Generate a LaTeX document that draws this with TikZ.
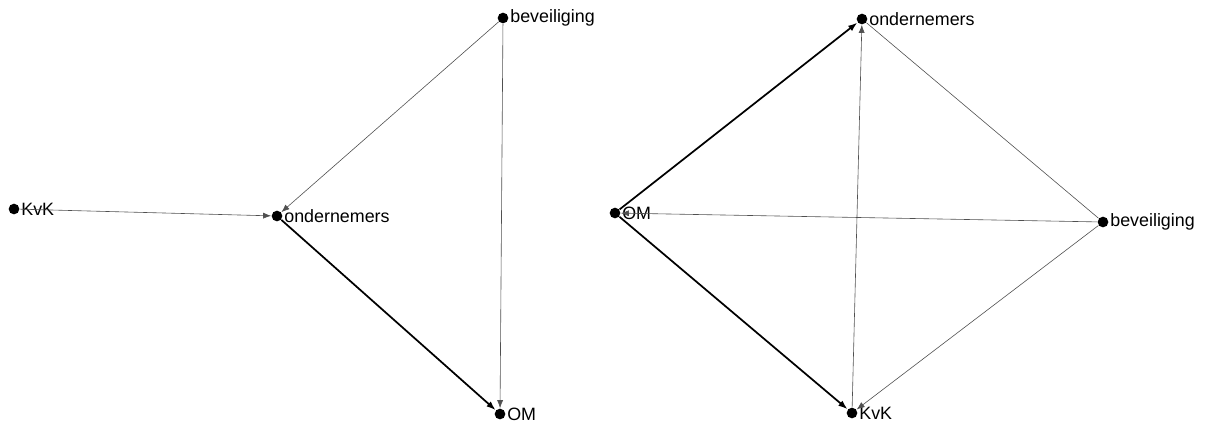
\documentclass[tikz,border=0pt]{standalone}
\usepackage{fontspec}
\setmainfont{Liberation Sans}
\usetikzlibrary{arrows.meta,positioning}

\tikzset{every picture/.style={line width=0.75pt}}
\tikzset{
  dot/.style={circle,fill=black,draw=none,inner sep=0pt,minimum size=8pt},
  lbl/.style={anchor=west,inner sep=0.75pt,font=\fontsize{13.4}{15}\selectfont},
  thinarc/.style={draw={rgb,255:red,80;green,80;blue,80},line width=0.45pt,-{Latex[length=6pt,width=4.5pt]}},
  thickarc/.style={draw=black,line width=1.3pt,-{Latex[length=7pt,width=5pt]}},
  plainarc/.style={draw={rgb,255:red,80;green,80;blue,80},line width=0.45pt}
}

\begin{document}
\begin{tikzpicture}[x=0.75pt,y=0.75pt,yscale=-1,xscale=1]
        \useasboundingbox (0,0) rectangle (1220,430);

        %Left network
        \node [dot] (lkvk) at (14,209) {};
        \node [dot] (lond) at (277,216) {};
        \node [dot] (lbev) at (503,18) {};
        \node [dot] (lom) at (500,414) {};

        %Right network
        \node [dot] (rond) at (862,19) {};
        \node [dot] (rom) at (615,213) {};
        \node [dot] (rbev) at (1103,222) {};
        \node [dot] (rkvk) at (852,413) {};

        % Text Node
        \node [lbl, right=0pt of lkvk] (tlkvk) {KvK};
        % Text Node
        \node [lbl, right=0pt of lond] (tlond) {ondernemers};
        % Text Node
        \node [lbl, right=0pt of lbev] (tlbev) {beveiliging};
        % Text Node
        \node [lbl, right=0pt of lom] (tlom) {OM};
        % Text Node
        \node [lbl, right=0pt of rond] (trond) {ondernemers};
        % Text Node
        \node [lbl, right=0pt of rom] (trom) {OM};
        % Text Node
        \node [lbl, right=0pt of rbev] (trbev) {beveiliging};
        % Text Node
        \node [lbl, right=0pt of rkvk] (trkvk) {KvK};

        %Straight Lines
        \draw [thinarc] (lkvk) -- (lond);
        \draw [thinarc] (lbev) -- (lond);
        \draw [thinarc] (lbev) -- (lom);
        \draw [thickarc] (lond) -- (lom);

        %Straight Lines
        \draw [thickarc] (rom) -- (rond);
        \draw [thickarc] (rom) -- (rkvk);
        \draw [thinarc] (rkvk) -- (rond);
        \draw [thinarc] (rbev) -- (rom);
        \draw [thinarc] (rbev) -- (rkvk);
        \draw [plainarc] (rbev) -- (rond);

\end{tikzpicture}
\end{document}
